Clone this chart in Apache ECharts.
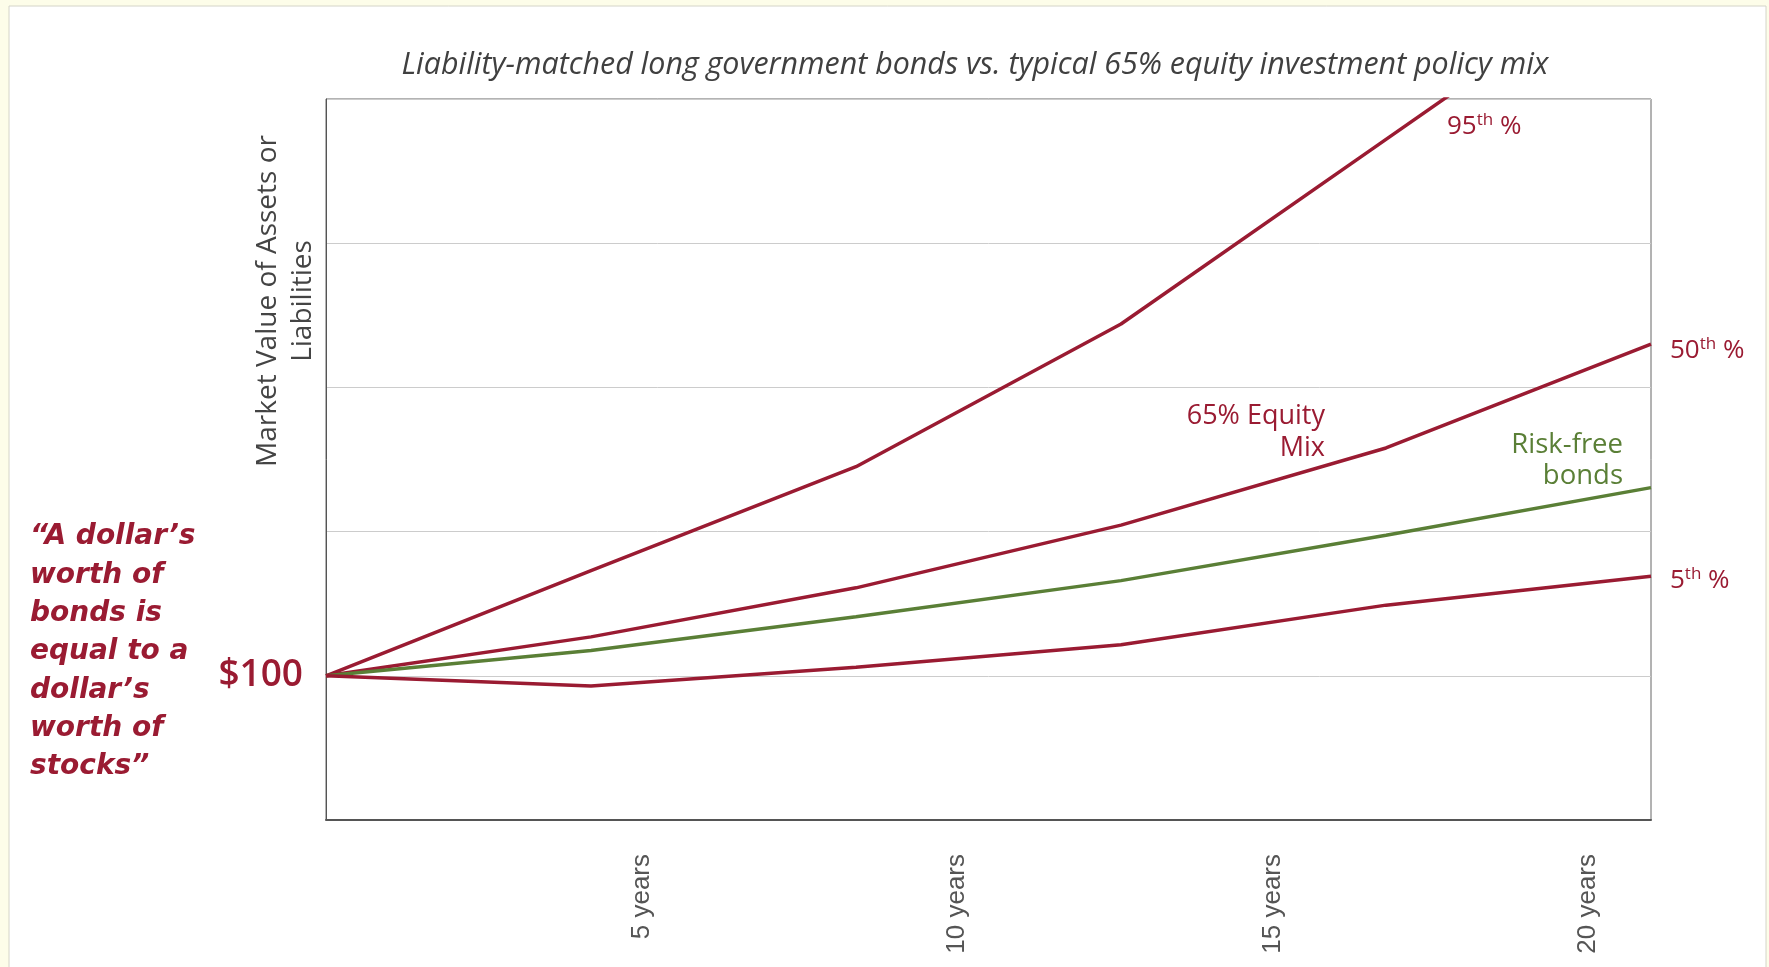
<!DOCTYPE html>
<html>
<head>
<meta charset="utf-8">
<title>Liability-matched bonds vs. 65% equity mix</title>
<script src="https://cdn.jsdelivr.net/npm/echarts@6/dist/echarts.min.js"></script>
<style>
  html, body { margin: 0; padding: 0; background: #fdfde9; }
  #main { width: 1769px; height: 967px; }
</style>
</head>
<body>
<div id="main"></div>
<script>
// horizon (years) where the lines bend
var years = [0, 4.2, 8.4, 12.6, 16.8, 21];
// market value, start = $100
var p95 = [100, 173, 245, 344, 472, 600];
var p50 = [100, 127, 161, 204.5, 258, 330];
var riskFree = [100, 117.5, 141, 166, 197.5, 230.5];
var p5 = [100, 93, 106, 121.5, 149, 169];
// tick labels
var xTickLabels = { 5: '5 years', 10: '10 years', 15: '15 years', 20: '20 years' };
var yTickLabels = { 100: '$100' };

var RED = '#9a1b32';
var GREEN = '#5a7f36';
var FONT = '"Open Sans", sans-serif';

function pairs(ys) {
    return years.map(function (x, i) { return [x, ys[i]]; });
}

function line(name, ys, color) {
    return {
        name: name,
        type: 'line',
        data: pairs(ys),
        showSymbol: false,
        clip: true,
        lineStyle: { color: color, width: 3.5 },
        itemStyle: { color: color }
    };
}

// "95th %" style label with superscript
function pctLabel(x, y, n) {
    return {
        type: 'text', z: 10,
        style: {
            x: x, y: y,
            text: '{n|' + n + '}{s|th}{n| %}',
            textAlign: 'left', textVerticalAlign: 'middle',
            rich: {
                n: { fontFamily: FONT, fontSize: 26, lineHeight: 30, fill: RED },
                s: { fontFamily: FONT, fontSize: 17, lineHeight: 30, fill: RED, verticalAlign: 'top', padding: [0, 0, 12, 0] }
            }
        }
    };
}

let option = {
    backgroundColor: '#fdfde9',
    animation: false,
    grid: {
        left: 326,
        right: 118,
        top: 99,
        bottom: 147,
        show: true,
        borderColor: '#666',
        borderWidth: 1,
        backgroundColor: '#fff'
    },
    xAxis: {
        type: 'value',
        min: 0,
        max: 21,
        interval: 5,
        splitLine: { show: false },
        axisTick: { show: false },
        axisLine: { show: true, lineStyle: { color: '#555', width: 2 } },
        axisLabel: {
            rotate: 90,
            margin: 34,
            fontFamily: '"Liberation Sans", Arial, sans-serif',
            fontSize: 26,
            color: '#555',
            formatter: function (v) { return xTickLabels[v] || ''; }
        }
    },
    yAxis: {
        type: 'value',
        min: 0,
        max: 500,
        interval: 100,
        splitLine: { show: true, lineStyle: { color: '#ccc', width: 1 } },
        axisTick: { show: false },
        axisLine: { show: true, lineStyle: { color: '#555', width: 1 } },
        axisLabel: {
            margin: 23,
            fontFamily: FONT,
            fontWeight: 600,
            fontSize: 37,
            color: RED,
            formatter: function (v) { return yTickLabels[v] || ''; }
        }
    },
    graphic: [
        // white panel behind everything
        {
            type: 'rect', z: -10, silent: true,
            shape: { x: 9, y: 6, width: 1757, height: 980 },
            style: { fill: '#fff', stroke: '#d4d4c8', lineWidth: 1 }
        },
        {
            type: 'text', z: 10,
            style: {
                x: 975, y: 65, text: 'Liability-matched long government bonds vs. typical 65% equity investment policy mix',
                fontFamily: FONT, fontStyle: 'italic', fontSize: 30.4, fill: '#404040',
                textAlign: 'center', textVerticalAlign: 'middle'
            }
        },
        {
            type: 'text', z: 10, x: 286, y: 301, rotation: Math.PI / 2,
            style: {
                x: 0, y: 0, text: 'Market Value of Assets or\nLiabilities',
                fontFamily: FONT, fontSize: 28, lineHeight: 35, fill: '#444',
                textAlign: 'center', textVerticalAlign: 'middle'
            }
        },
        {
            type: 'text', z: 10,
            style: {
                x: 30, y: 518,
                text: '\u201cA dollar\u2019s\nworth of\nbonds is\nequal to a\ndollar\u2019s\nworth of\nstocks\u201d',
                fontFamily: '"DejaVu Sans", sans-serif', fontStyle: 'italic', fontWeight: 'bold', fontSize: 28,
                lineHeight: 38.3, fill: RED, textAlign: 'left', textVerticalAlign: 'top'
            }
        },
        {
            type: 'text', z: 10,
            style: {
                x: 1325, y: 400, text: '65% Equity\nMix',
                fontFamily: FONT, fontSize: 27, lineHeight: 32, fill: RED,
                textAlign: 'right', textVerticalAlign: 'top'
            }
        },
        {
            type: 'text', z: 10,
            style: {
                x: 1623, y: 430, text: 'Risk-free\nbonds',
                fontFamily: FONT, fontSize: 27.5, lineHeight: 31, fill: GREEN,
                textAlign: 'right', textVerticalAlign: 'top'
            }
        },
        pctLabel(1447, 127, '95'),
        pctLabel(1670, 351, '50'),
        pctLabel(1670, 581, '5')
    ],
    series: [
        line('95th %', p95, RED),
        line('50th %', p50, RED),
        line('Risk-free bonds', riskFree, GREEN),
        line('5th %', p5, RED)
    ]
};

var myChart = echarts.init(document.getElementById('main'));
myChart.setOption(option);
</script>
</body>
</html>
